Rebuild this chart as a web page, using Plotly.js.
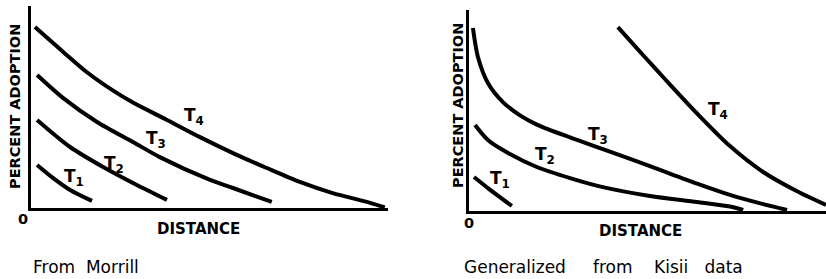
<!DOCTYPE html>
<html>
<head>
<meta charset="utf-8">
<script src="https://cdn.plot.ly/plotly-3.0.1.min.js"></script>
<style>html,body{margin:0;padding:0;background:#fff}#chart{width:826px;height:279px}</style>
</head>
<body>
<div id="chart"></div>
<script>
// Left panel: "From Morrill" (distance 0-100, percent adoption 0-100, arbitrary units)
const morrillT1x = [1.7, 6.1, 10.9, 17.0];
const morrillT1y = [21.3, 14.9, 8.9, 3.5];
const morrillT2x = [1.7, 10.9, 20.1, 29.5, 37.9];
const morrillT2y = [43.6, 30.2, 20.3, 11.4, 4.0];
const morrillT3x = [1.7, 8.9, 18.4, 28.4, 35.9, 49.9, 56.3, 67.1];
const morrillT3y = [65.8, 54.5, 42.6, 32.7, 25.2, 13.9, 9.9, 3.0];
const morrillT4x = [1.1, 8.9, 15.6, 22.8, 28.4, 37.9, 47.1, 56.3, 65.7, 74.9, 84.1, 93.6, 98.6];
const morrillT4y = [89.6, 77.4, 67.2, 58.2, 52.2, 43.6, 35.1, 27.2, 19.8, 12.9, 7.4, 3.0, 0.3];

// Right panel: "Generalized from Kisii data"
const kisiiT1x = [1.4, 5.3, 12.0];
const kisiiT1y = [16.9, 11.4, 2.5];
const kisiiT2x = [1.7, 5.3, 9.5, 19.0, 28.3, 37.5, 50.7, 63.9, 73.1, 76.8];
const kisiiT2y = [42.8, 35.3, 30.3, 21.9, 16.4, 11.9, 7.5, 4.5, 2.2, 0.5];
const kisiiT3x = [1.1, 2.5, 5.3, 9.5, 14.3, 19.0, 28.3, 37.5, 50.7, 63.9, 73.1, 82.4, 89.1];
const kisiiT3y = [91.0, 76.6, 63.7, 54.2, 47.6, 43.0, 36.6, 30.8, 22.3, 13.6, 8.0, 3.4, 0.5];
const kisiiT4x = [41.7, 45.1, 49.3, 54.3, 63.9, 73.1, 82.4, 91.9, 100];
const kisiiT4y = [91.5, 84.8, 76.5, 66.8, 48.5, 32.3, 19.4, 9.8, 3.0];

const seriesNames = ["T<sub>1</sub>", "T<sub>2</sub>", "T<sub>3</sub>", "T<sub>4</sub>"];
const morrillLabelX = [12.0, 23.1, 34.8, 45.4];
const morrillLabelY = [15.0, 21.5, 33.8, 45.3];
const kisiiLabelX = [8.7, 21.3, 36.1, 69.7];
const kisiiLabelY = [15.6, 27.6, 37.5, 50.2];

const yTitle = "PERCENT ADOPTION";
const xTitle = "DISTANCE";
const leftCaption = "From&nbsp;&nbsp;Morrill";
const rightCaption = "Generalized&nbsp;&nbsp;&nbsp;&nbsp;&nbsp;from&nbsp;&nbsp;&nbsp;&nbsp;Kisii&nbsp;&nbsp;&nbsp;data";

const lineStyle = {color: "#000", width: 4, shape: "spline", smoothing: 0.8};
function tr(x, y, xa, ya, name) {
  return {x: x, y: y, xaxis: xa, yaxis: ya, mode: "lines", line: lineStyle, name: name, hoverinfo: "skip"};
}
const data = [
  tr(morrillT1x, morrillT1y, "x", "y", "T1"),
  tr(morrillT2x, morrillT2y, "x", "y", "T2"),
  tr(morrillT3x, morrillT3y, "x", "y", "T3"),
  tr(morrillT4x, morrillT4y, "x", "y", "T4"),
  tr(kisiiT1x, kisiiT1y, "x2", "y2", "T1"),
  tr(kisiiT2x, kisiiT2y, "x2", "y2", "T2"),
  tr(kisiiT3x, kisiiT3y, "x2", "y2", "T3"),
  tr(kisiiT4x, kisiiT4y, "x2", "y2", "T4")
];

const W = 826, H = 279;
const axBase = {showline: true, linecolor: "#000", linewidth: 3, showgrid: false, zeroline: false,
  showticklabels: false, ticks: "", fixedrange: true};
const labelFont = {family: "DejaVu Sans, Arial, sans-serif", size: 17, color: "#000", weight: "bold"};
const titleFont = {family: "DejaVu Sans, Arial, sans-serif", size: 14.5, color: "#000", weight: "bold"};
const xTitleFont = {family: "DejaVu Sans, Arial, sans-serif", size: 15, color: "#000", weight: "bold"};
const capFont = {family: "DejaVu Sans, Arial, sans-serif", size: 17, color: "#000"};

const annotations = [];
for (let i = 0; i < 4; i++) {
  annotations.push({x: morrillLabelX[i], y: morrillLabelY[i], xref: "x", yref: "y", text: seriesNames[i],
    showarrow: false, font: labelFont});
  annotations.push({x: kisiiLabelX[i], y: kisiiLabelY[i], xref: "x2", yref: "y2", text: seriesNames[i],
    showarrow: false, font: labelFont});
}
function pa(px, py, text, font, extra) {
  return Object.assign({x: px / W, y: 1 - py / H, xref: "paper", yref: "paper", text: text,
    showarrow: false, font: font, xanchor: "center", yanchor: "middle"}, extra || {});
}
annotations.push(pa(15, 107, yTitle, titleFont, {textangle: -90}));
annotations.push(pa(458, 106, yTitle, titleFont, {textangle: -90}));
annotations.push(pa(198, 229, xTitle, xTitleFont));
annotations.push(pa(640, 231, xTitle, xTitleFont));
annotations.push(pa(23, 219, "0", titleFont));
annotations.push(pa(469, 223, "0", titleFont));
annotations.push(pa(31, 267, leftCaption, capFont, {xanchor: "left"}));
annotations.push(pa(462, 267, rightCaption, capFont, {xanchor: "left"}));

const layout = {
  width: W, height: H,
  margin: {l: 0, r: 0, t: 0, b: 0},
  paper_bgcolor: "#fff", plot_bgcolor: "#fff",
  showlegend: false,
  xaxis: Object.assign({}, axBase, {domain: [31 / W, 388 / W], range: [0, 99.5], anchor: "y"}),
  yaxis: Object.assign({}, axBase, {domain: [1 - 208 / H, 1 - 6 / H], range: [0, 100], anchor: "x"}),
  xaxis2: Object.assign({}, axBase, {domain: [469 / W, 1], range: [0, 100], anchor: "y2"}),
  yaxis2: Object.assign({}, axBase, {domain: [1 - 211 / H, 1 - 10 / H], range: [0, 100], anchor: "x2"}),
  annotations: annotations
};
Plotly.newPlot("chart", data, layout, {displayModeBar: false, staticPlot: true});
</script>
</body>
</html>
